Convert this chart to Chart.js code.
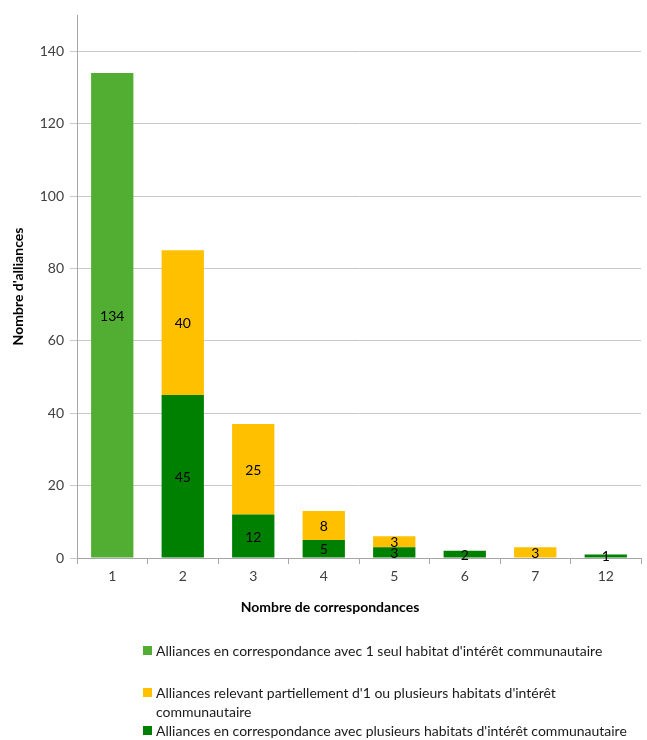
<!DOCTYPE html>
<html>
<head>
<meta charset="utf-8">
<script src="https://cdn.jsdelivr.net/npm/chart.js@4.4.1/dist/chart.umd.min.js"></script>
<style>
  html, body { margin: 0; padding: 0; background: #fff; }
  #wrap { width: 647px; height: 740px; position: relative; }
</style>
</head>
<body>
<div id="wrap"><canvas id="c"></canvas></div>
<script>
// ---- Data ----
const categories = ['1', '2', '3', '4', '5', '6', '7', '12'];
const seulHabitat = [134, 0, 0, 0, 0, 0, 0, 0];
const plusieursHabitats = [0, 45, 12, 5, 3, 2, 0, 1];
const partiellement = [0, 40, 25, 8, 3, 0, 3, 0];
const yTickValues = [0, 20, 40, 60, 80, 100, 120, 140];

const labelSeul = "Alliances en correspondance avec 1 seul habitat d'intérêt communautaire";
const labelPartiel = "Alliances relevant partiellement d'1 ou plusieurs habitats d'intérêt communautaire";
const labelPlusieurs = "Alliances en correspondance avec plusieurs habitats d'intérêt communautaire";
const xTitle = "Nombre de correspondances";
const yTitle = "Nombre d'alliances";

const FONT = "Lato, 'Open Sans', sans-serif";

const valueLabels = {
  id: 'valueLabels',
  afterDatasetsDraw(chart) {
    const ctx = chart.ctx;
    ctx.save();
    ctx.font = '14px ' + FONT;
    ctx.fillStyle = '#000';
    ctx.textAlign = 'center';
    ctx.textBaseline = 'middle';
    chart.data.datasets.forEach((ds, i) => {
      const meta = chart.getDatasetMeta(i);
      meta.data.forEach((bar, j) => {
        const v = ds.data[j];
        if (!v) return;
        const y = (bar.y + bar.base) / 2;
        ctx.fillText(String(v), bar.x, y + 1);
      });
    });
    ctx.restore();
  }
};

const bottomLegend = {
  id: 'bottomLegend',
  afterDraw(chart) {
    const ctx = chart.ctx;
    ctx.save();
    // x-axis title
    ctx.font = 'bold 14px ' + FONT;
    ctx.fillStyle = '#000';
    ctx.textAlign = 'center';
    ctx.textBaseline = 'middle';
    ctx.fillText(xTitle, 330, 607);

    // legend
    const order = [0, 2, 1];
    const rows = [651, 693, 731];
    ctx.font = '14px ' + FONT;
    ctx.textAlign = 'left';
    const maxW = 640 - 156;
    order.forEach((di, k) => {
      const ds = chart.data.datasets[di];
      let y = rows[k];
      ctx.fillStyle = ds.backgroundColor;
      ctx.fillRect(143, y - 5, 9, 9);
      ctx.fillStyle = '#1a1a1a';
      const words = ds.label.split(' ');
      let line = '';
      const lines = [];
      words.forEach(w => {
        const test = line ? line + ' ' + w : w;
        if (ctx.measureText(test).width > maxW && line) { lines.push(line); line = w; }
        else line = test;
      });
      if (line) lines.push(line);
      lines.forEach((ln, li) => ctx.fillText(ln, 156, y + li * 19));
    });
    ctx.restore();
  }
};

new Chart(document.getElementById('c'), {
  type: 'bar',
  data: {
    labels: categories,
    datasets: [
      { label: labelSeul, data: seulHabitat, backgroundColor: '#52AE32' },
      { label: labelPlusieurs, data: plusieursHabitats, backgroundColor: '#008000' },
      { label: labelPartiel, data: partiellement, backgroundColor: '#FFC000' }
    ]
  },
  options: {
    responsive: true,
    maintainAspectRatio: false,
    animation: false,
    layout: { padding: { top: 15, right: 6, left: 0, bottom: 0 } },
    plugins: {
      legend: { display: false },
      tooltip: { enabled: false }
    },
    datasets: { bar: { categoryPercentage: 1, barPercentage: 0.6, borderWidth: 0 } },
    scales: {
      x: {
        stacked: true,
        grid: { drawOnChartArea: false, drawTicks: true, tickLength: 6, offset: true, color: '#a6a6a6' },
        border: { display: true, color: '#a6a6a6' },
        ticks: { font: { family: FONT, size: 14 }, color: '#404040', padding: 4 },
        afterFit(scale) { scale.height = 182; }
      },
      y: {
        stacked: true,
        min: 0,
        max: 150,
        ticks: { stepSize: 20, font: { family: FONT, size: 14 }, color: '#404040', padding: 6 },
        afterBuildTicks(scale) {
          scale.ticks = yTickValues.map(v => ({ value: v }));
        },
        grid: { color: '#c8c8c8', tickLength: 7, drawTicks: true },
        border: { display: true, color: '#a6a6a6' },
        title: { display: true, text: yTitle, font: { family: FONT, size: 14, weight: 'bold' }, color: '#000', padding: { top: 10, bottom: 0 } },
        afterFit(scale) { scale.width = 77; }
      }
    }
  },
  plugins: [valueLabels, bottomLegend]
});
</script>
</body>
</html>
